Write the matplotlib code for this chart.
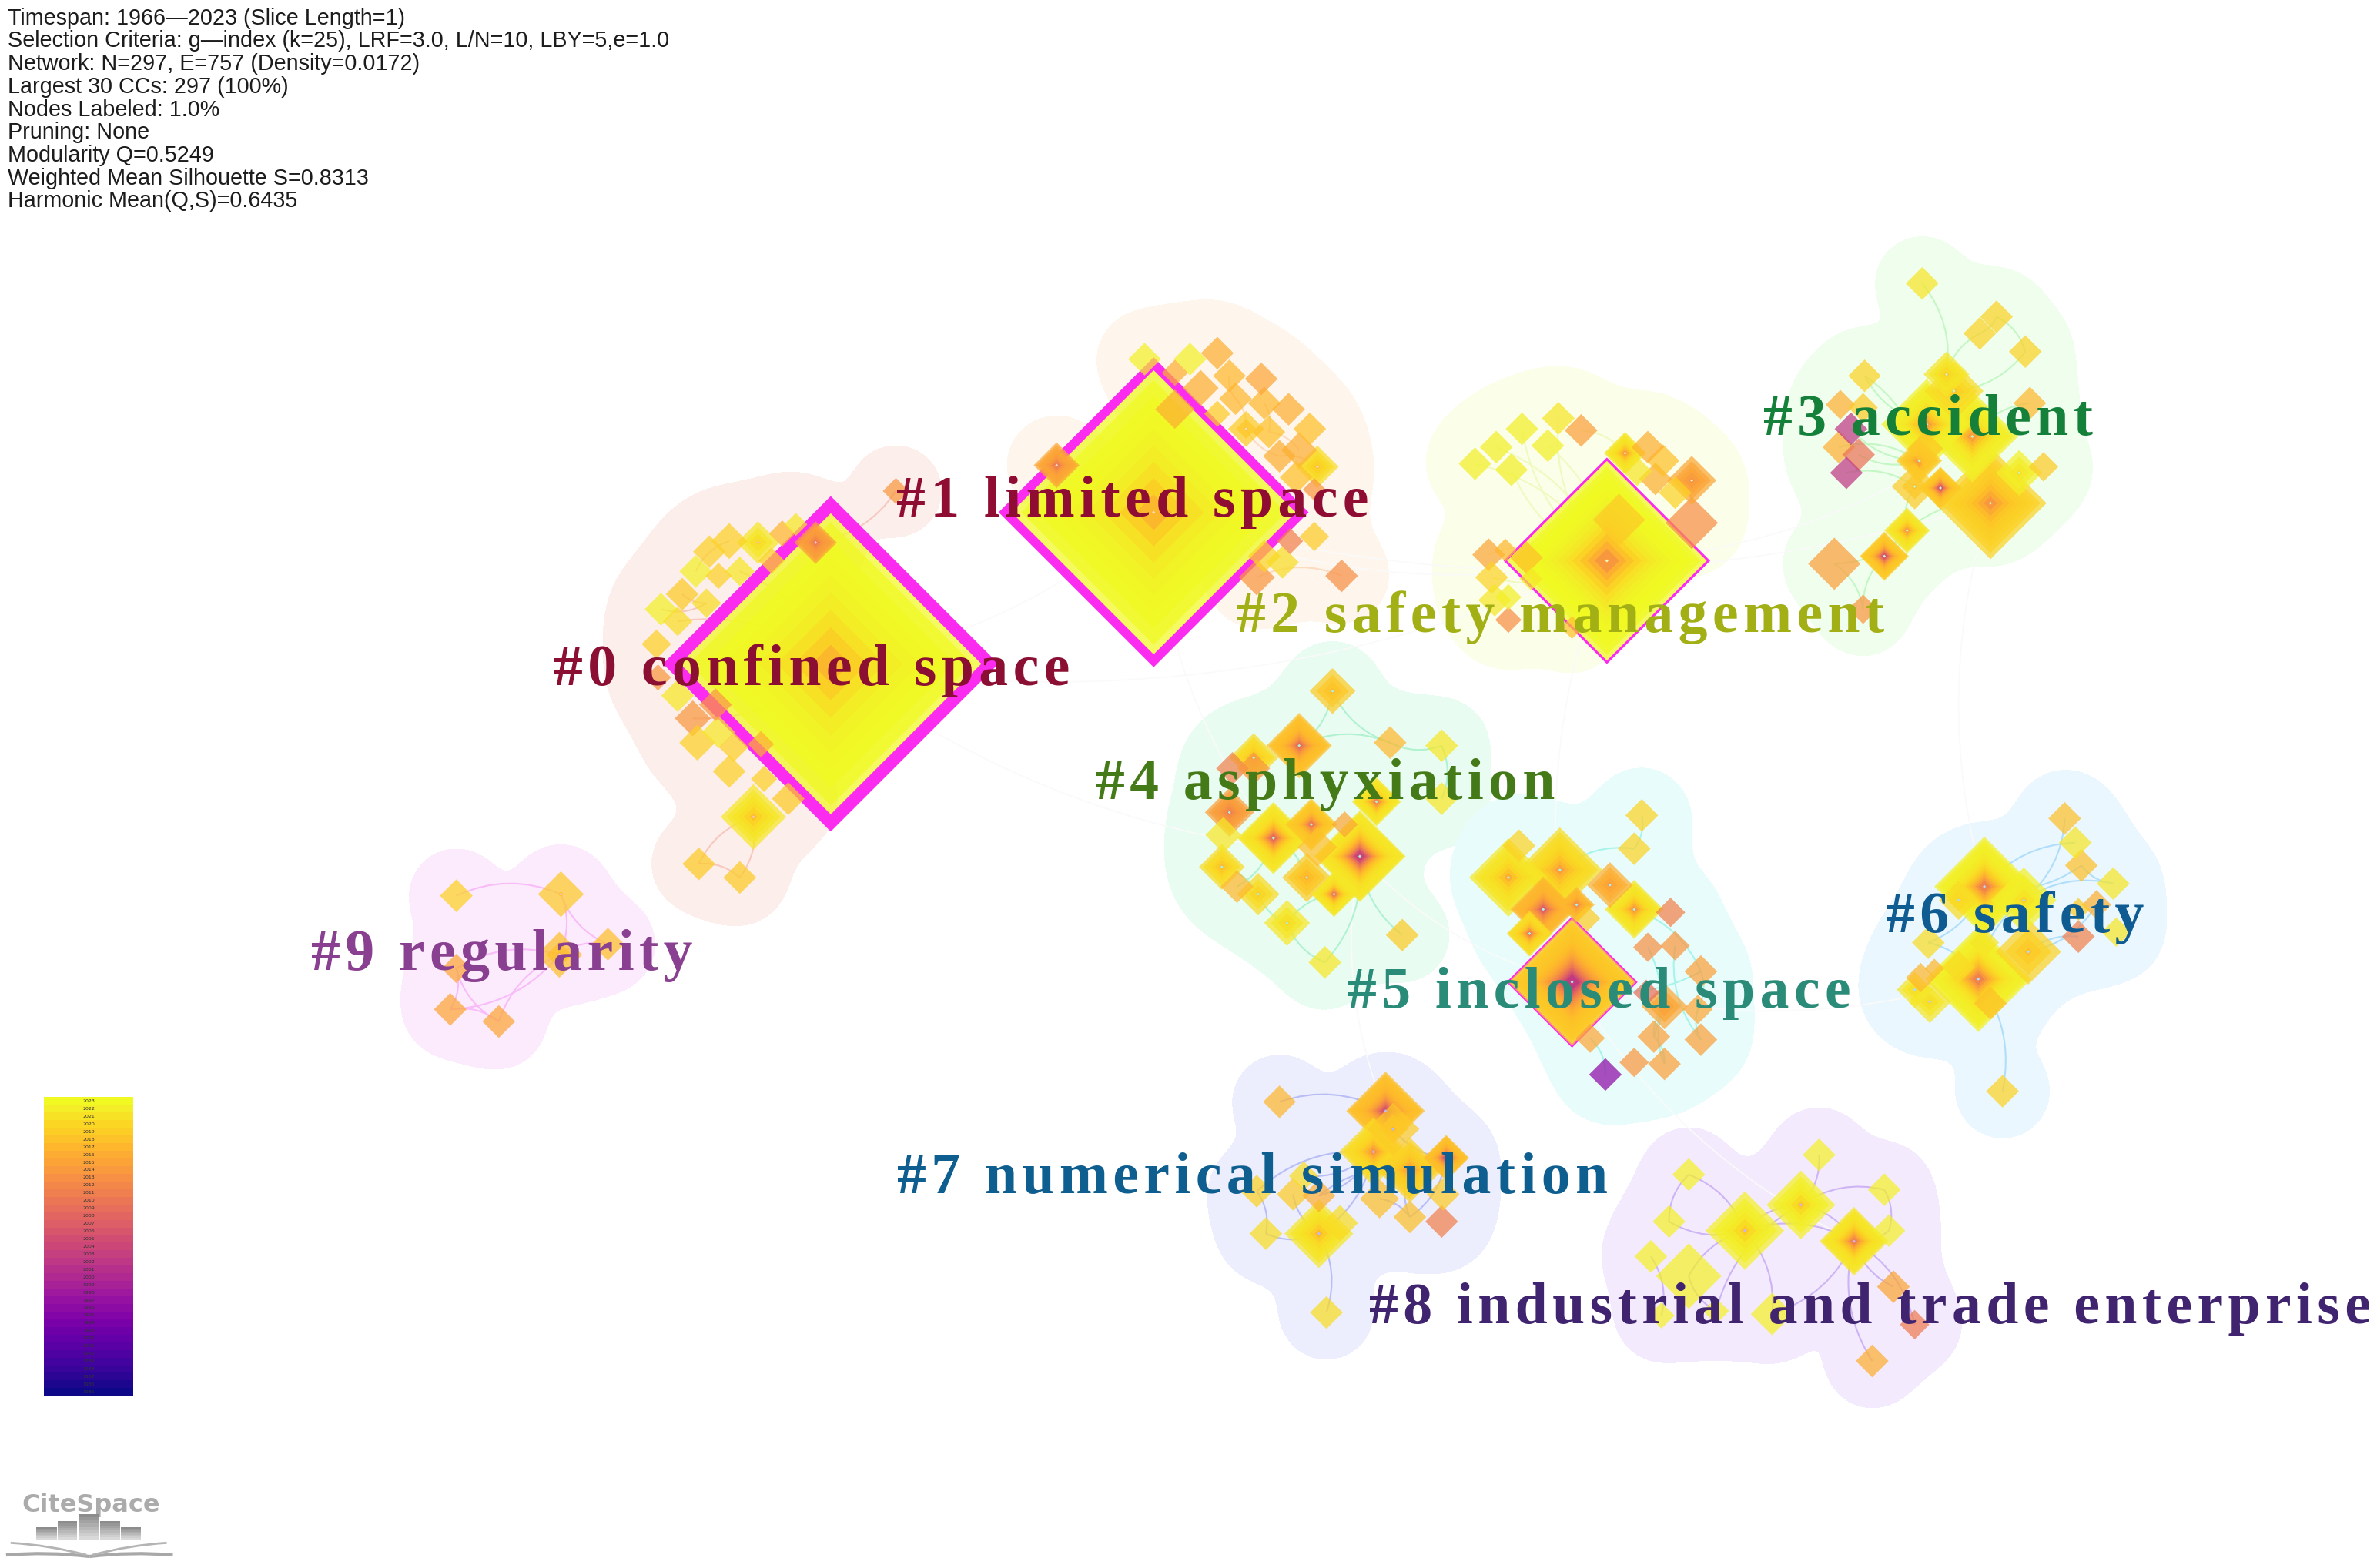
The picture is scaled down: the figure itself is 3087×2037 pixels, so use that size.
# CiteSpace cluster map of the confined space literature
import numpy as np
import matplotlib
matplotlib.use("Agg")
import matplotlib.pyplot as plt
from matplotlib.path import Path
from matplotlib.patches import PathPatch, Polygon

stats = ["Timespan: 1966\u20142023 (Slice Length=1)",
         "Selection Criteria: g\u2014index (k=25), LRF=3.0, L/N=10, LBY=5,e=1.0",
         "Network: N=297, E=757 (Density=0.0172)",
         "Largest 30 CCs: 297 (100%)",
         "Nodes Labeled: 1.0%",
         "Pruning: None",
         "Modularity Q=0.5249",
         "Weighted Mean Silhouette S=0.8313",
         "Harmonic Mean(Q,S)=0.6435"]
years = list(range(2023, 1984, -1))

# every node: x, y, half diagonal, newest ring year, oldest ring year
c0_x = [548, 538, 500, 481, 516, 525, 468, 459, 474, 488, 509, 450, 436, 466, 447, 433, 434, 447, 472, 457, 460, 474, 502, 484, 481, 504, 520, 497, 461, 488, 591]
c0_y = [438, 358, 358, 357, 352, 346, 364, 377, 380, 377, 370, 392, 402, 398, 410, 425, 447, 459, 465, 474, 490, 483, 491, 493, 509, 514, 527, 539, 570, 579, 324]
c0_r = [105, 13, 13, 11, 8, 7, 10, 10, 8, 9, 8, 10, 10, 9, 9, 9, 8, 10, 10, 11, 11, 10, 8, 9, 10, 8, 10, 20, 10, 10, 8]
c0_new = [2023, 2013, 2021, 2019, 2016, 2021, 2019, 2022, 2019, 2021, 2019, 2018, 2022, 2020, 2020, 2019, 2012, 2021, 2012, 2012, 2019, 2021, 2015, 2019, 2019, 2019, 2018, 2021, 2018, 2018, 2012]
c0_old = [2015, 2006, 2018, 2019, 2016, 2021, 2019, 2022, 2019, 2021, 2019, 2018, 2022, 2020, 2020, 2019, 2012, 2021, 2012, 2012, 2019, 2021, 2015, 2019, 2019, 2019, 2018, 2016, 2018, 2018, 2012]
c0_edges = [(28, 29), (27, 28), (27, 29), (1, 30), (7, 3), (12, 13), (13, 11), (0, 14), (0, 19), (0, 9)]

c1_x = [761, 755, 785, 803, 775, 811, 832, 792, 815, 834, 775, 850, 803, 822, 837, 864, 844, 857, 869, 855, 697, 867, 851, 867, 834, 846, 829, 885]
c1_y = [338, 237, 237, 233, 246, 248, 250, 256, 263, 266, 270, 270, 273, 283, 285, 283, 301, 297, 308, 315, 307, 323, 357, 354, 367, 371, 381, 380]
c1_r = [98, 10, 10, 10, 8, 10, 10, 11, 10, 10, 12, 10, 8, 11, 10, 10, 10, 11, 13, 10, 14, 7, 8, 9, 10, 10, 11, 10]
c1_new = [2023, 2022, 2022, 2015, 2015, 2016, 2014, 2015, 2016, 2016, 2015, 2015, 2018, 2018, 2017, 2017, 2015, 2015, 2020, 2017, 2014, 2012, 2009, 2018, 2019, 2020, 2012, 2011]
c1_old = [2015, 2022, 2022, 2015, 2015, 2016, 2014, 2015, 2016, 2016, 2015, 2015, 2018, 2016, 2017, 2017, 2015, 2015, 2016, 2017, 2006, 2012, 2009, 2018, 2019, 2020, 2012, 2011]
c1_edges = [(8, 13), (13, 16), (16, 18), (5, 8), (14, 17), (27, 26), (9, 14)]

c2_x = [1060, 1028, 1004, 1043, 987, 1021, 973, 997, 1072, 1087, 1097, 1080, 1092, 1116, 1105, 1116, 1068, 982, 993, 1007, 984, 1010, 986, 995, 995, 1037]
c2_y = [370, 276, 283, 284, 295, 294, 306, 310, 299, 295, 304, 311, 316, 317, 325, 345, 343, 366, 363, 368, 381, 382, 396, 394, 409, 414]
c2_r = [67, 10, 10, 10, 10, 10, 10, 10, 13, 10, 10, 9, 10, 15, 10, 16, 16, 10, 7, 10, 10, 7, 10, 8, 8, 7]
c2_new = [2023, 2021, 2022, 2013, 2022, 2022, 2022, 2022, 2021, 2015, 2017, 2021, 2015, 2014, 2019, 2011, 2018, 2014, 2016, 2017, 2019, 2021, 2021, 2022, 2011, 2017]
c2_old = [2011, 2021, 2022, 2013, 2022, 2022, 2022, 2022, 2011, 2015, 2017, 2021, 2015, 2010, 2019, 2011, 2018, 2014, 2016, 2017, 2019, 2021, 2021, 2022, 2011, 2017]
c2_edges = [(6, 0), (7, 0), (4, 0), (2, 0), (5, 0), (1, 0), (3, 8), (8, 0), (17, 0), (20, 0)]

c3_x = [1268, 1317, 1306, 1336, 1284, 1230, 1289, 1339, 1214, 1229, 1221, 1271, 1301, 1213, 1226, 1218, 1266, 1270, 1263, 1280, 1313, 1332, 1348, 1258, 1243, 1210, 1229]
c3_y = [187, 209, 220, 232, 247, 248, 258, 266, 267, 269, 283, 280, 288, 295, 300, 312, 304, 296, 321, 322, 332, 312, 308, 350, 367, 372, 402]
c3_r = [10, 10, 10, 10, 14, 10, 18, 10, 9, 9, 10, 30, 28, 10, 10, 10, 14, 11, 14, 13, 37, 14, 9, 14, 15, 16, 9]
c3_new = [2021, 2019, 2019, 2019, 2021, 2019, 2020, 2016, 2015, 2018, 1997, 2022, 2022, 2015, 2007, 1997, 2018, 2018, 2018, 2018, 2019, 2022, 2018, 2021, 2018, 2013, 2012]
c3_old = [2021, 2019, 2019, 2019, 2017, 2019, 2016, 2016, 2015, 2018, 1997, 2012, 2012, 2015, 2007, 1997, 2010, 2018, 2016, 2000, 2011, 2019, 2018, 2011, 2000, 2013, 2012]
c3_edges = [(0, 4), (2, 4), (1, 3), (2, 1), (3, 6), (5, 11), (5, 16), (10, 16), (13, 16), (14, 16), (15, 18), (18, 23), (23, 24), (25, 23), (25, 26), (24, 26), (23, 20), (7, 12)]

c4_x = [879, 857, 917, 951, 827, 813, 827, 951, 908, 811, 865, 887, 840, 807, 869, 897, 806, 862, 816, 880, 830, 849, 925, 874]
c4_y = [456, 492, 490, 492, 500, 507, 507, 527, 529, 536, 544, 544, 553, 551, 559, 565, 572, 579, 585, 590, 590, 609, 617, 635]
c4_r = [14, 20, 10, 10, 15, 10, 10, 10, 15, 15, 16, 8, 22, 11, 12, 28, 14, 15, 10, 14, 13, 14, 10, 10]
c4_new = [2018, 2017, 2016, 2021, 2020, 2009, 2012, 2021, 2021, 2013, 2018, 2014, 2021, 2021, 2017, 2021, 2020, 2018, 2016, 2021, 2020, 2021, 2018, 2021]
c4_old = [2015, 2005, 2016, 2021, 2014, 2009, 2012, 2021, 2008, 2007, 2006, 2014, 2005, 2021, 2017, 1998, 2015, 2014, 2016, 2007, 2017, 2018, 2018, 2021]
c4_edges = [(0, 1), (0, 2), (1, 2), (2, 3), (3, 7), (15, 22), (15, 23), (21, 23), (16, 20), (20, 21), (12, 18), (19, 21), (12, 17)]

c5_x = [1083, 1078, 1002, 995, 1029, 1062, 1018, 1040, 1078, 1102, 1047, 1009, 1087, 1105, 1037, 1122, 1086, 1098, 1120, 1049, 1091, 1122, 1059, 1078, 1098]
c5_y = [538, 560, 558, 579, 574, 584, 600, 597, 600, 602, 606, 616, 625, 624, 648, 641, 655, 664, 666, 685, 684, 686, 709, 701, 702]
c5_r = [10, 10, 10, 24, 26, 14, 20, 11, 18, 9, 8, 14, 9, 9, 42, 10, 8, 14, 9, 9, 10, 10, 10, 9, 10]
c5_new = [2019, 2019, 2019, 2021, 2020, 2015, 2016, 2016, 2021, 2009, 2018, 2020, 2011, 2012, 2018, 2013, 2006, 2014, 2014, 2014, 2013, 2013, 1988, 2012, 2013]
c5_old = [2019, 2019, 2019, 2014, 2012, 2011, 2003, 2008, 2011, 2009, 2018, 2007, 2011, 2012, 1996, 2013, 2006, 2011, 2014, 2014, 2013, 2013, 1988, 2012, 2013]
c5_edges = [(0, 1), (1, 4), (19, 22), (14, 15), (15, 18), (17, 20), (12, 20), (13, 21), (20, 24), (18, 21), (8, 15), (17, 24)]

c6_x = [1362, 1369, 1373, 1394, 1309, 1292, 1335, 1383, 1371, 1371, 1396, 1272, 1338, 1305, 1309, 1292, 1313, 1267, 1276, 1263, 1273, 1321]
c6_y = [540, 556, 571, 583, 585, 594, 594, 597, 600, 618, 615, 622, 628, 646, 622, 638, 662, 645, 639, 653, 661, 720]
c6_r = [10, 10, 10, 10, 33, 12, 20, 9, 7, 10, 9, 10, 20, 35, 9, 10, 10, 9, 6, 11, 13, 10]
c6_new = [2017, 2021, 2017, 2021, 2022, 2020, 2022, 2015, 2018, 2009, 2021, 2020, 2019, 2022, 2021, 2020, 2017, 2016, 2016, 2021, 2021, 2019]
c6_old = [2017, 2021, 2017, 2021, 2008, 2018, 2018, 2015, 2018, 2009, 2021, 2020, 2016, 2008, 2021, 2020, 2017, 2016, 2016, 2018, 2018, 2019]
c6_edges = [(0, 6), (1, 4), (2, 4), (3, 6), (3, 2), (9, 12), (11, 13), (11, 4), (13, 21), (6, 13), (7, 12)]

c7_x = [844, 914, 919, 906, 954, 930, 860, 829, 853, 870, 910, 952, 930, 951, 835, 870, 884, 875]
c7_y = [727, 733, 745, 760, 764, 772, 776, 786, 788, 789, 791, 788, 803, 806, 814, 814, 807, 866]
c7_r = [10, 24, 16, 21, 14, 20, 9, 10, 10, 10, 12, 10, 10, 10, 10, 21, 11, 10]
c7_new = [2016, 2017, 2018, 2020, 2017, 2019, 2020, 2019, 2018, 2015, 2017, 2018, 2017, 2009, 2020, 2021, 2020, 2020]
c7_old = [2016, 2001, 2016, 2011, 1999, 2011, 2020, 2019, 2018, 2015, 2017, 2018, 2017, 2009, 2020, 2015, 2020, 2020]
c7_edges = [(0, 1), (3, 5), (3, 9), (6, 3), (7, 14), (14, 15), (15, 17), (15, 3), (10, 12), (5, 12), (4, 12), (8, 15), (9, 5), (2, 4), (7, 3)]

c8_x = [1200, 1114, 1243, 1188, 1101, 1151, 1246, 1223, 1089, 1114, 1249, 1096, 1132, 1169, 1263, 1235]
c8_y = [762, 775, 785, 795, 806, 812, 812, 819, 829, 842, 849, 868, 865, 867, 874, 898]
c8_r = [10, 10, 10, 21, 10, 24, 10, 21, 10, 20, 10, 8, 8, 13, 9, 10]
c8_new = [2022, 2022, 2022, 2022, 2022, 2022, 2022, 2021, 2022, 2022, 2014, 2022, 2022, 2022, 2008, 2015]
c8_old = [2022, 2022, 2022, 2017, 2022, 2017, 2022, 2008, 2022, 2022, 2014, 2022, 2022, 2022, 2008, 2015]
c8_edges = [(0, 3), (1, 4), (1, 5), (2, 3), (2, 6), (3, 5), (3, 7), (4, 5), (5, 7), (5, 9), (5, 13), (3, 12), (7, 13), (7, 10), (7, 14), (7, 15), (8, 11), (9, 12), (6, 7)]

c9_x = [301, 370, 401, 369, 301, 297, 329]
c9_y = [591, 590, 623, 630, 639, 666, 674]
c9_r = [10, 14, 10, 14, 9, 10, 10]
c9_new = [2019, 2018, 2017, 2017, 2014, 2014, 2014]
c9_old = [2019, 2017, 2017, 2015, 2014, 2014, 2014]
c9_edges = [(0, 1), (1, 2), (1, 3), (3, 4), (3, 5), (3, 6), (4, 5), (4, 6), (5, 6), (2, 3)]

labels = ["#0 confined space", "#1 limited space", "#2 safety management", "#3 accident",
          "#4 asphyxiation", "#5 inclosed space", "#6 safety", "#7 numerical simulation",
          "#8 industrial and trade enterprise", "#9 regularity"]
label_x = [365, 591, 816, 1163, 723, 889, 1244, 592, 903, 205]
label_y = [452, 341, 417, 287, 527, 665, 615, 787, 873, 640]
label_col = ["#8a0f33", "#8f0d32", "#a2b015", "#14803a", "#457a18", "#2a8c78", "#0f5c93", "#0f5e90", "#40246f", "#8a4090"]
hull_col = ["#fceeea", "#fef6ec", "#fbfee9", "#f0feee", "#e9fcf1", "#e8fdfb", "#eaf7fe", "#eceefd", "#f3eafd", "#fceafd"]
edge_col = ["#f8c8c0", "#fbdcc0", "#f0fac0", "#c4f7c4", "#b0f2d0", "#a8f3ea", "#b0defa", "#b8bdf5", "#cdb4f5", "#f8bcf8"]

# (cluster, node index, magenta ring width)
burst = [(0, 0, 8), (1, 0, 6), (2, 0, 1.6), (5, 14, 1.8)]

xs = [c0_x, c1_x, c2_x, c3_x, c4_x, c5_x, c6_x, c7_x, c8_x, c9_x]
ys = [c0_y, c1_y, c2_y, c3_y, c4_y, c5_y, c6_y, c7_y, c8_y, c9_y]
rs = [c0_r, c1_r, c2_r, c3_r, c4_r, c5_r, c6_r, c7_r, c8_r, c9_r]
news = [c0_new, c1_new, c2_new, c3_new, c4_new, c5_new, c6_new, c7_new, c8_new, c9_new]
olds = [c0_old, c1_old, c2_old, c3_old, c4_old, c5_old, c6_old, c7_old, c8_old, c9_old]
edges = [c0_edges, c1_edges, c2_edges, c3_edges, c4_edges, c5_edges, c6_edges, c7_edges, c8_edges, c9_edges]
# faint links between clusters: (cluster a, node a, cluster b, node b)
links = [(0, 0, 1, 0), (0, 0, 2, 0), (1, 0, 2, 0), (1, 0, 3, 20), (2, 0, 3, 12), (0, 0, 4, 15),
         (1, 0, 4, 12), (4, 15, 5, 14), (2, 0, 5, 14), (5, 14, 6, 13), (3, 20, 6, 4), (4, 15, 7, 1), (5, 14, 8, 7)]

cmap = plt.get_cmap("plasma")


def year_col(y):
    return cmap(((y - 1966) / (2023 - 1966)) ** 1.3)


def curve(ax, x0, y0, x1, y1, bend, col, lw, z):
    mx = (x0 + x1) / 2 - (y1 - y0) * bend
    my = (y0 + y1) / 2 + (x1 - x0) * bend
    p = Path([(x0, y0), (mx, my), (x1, y1)], [Path.MOVETO, Path.CURVE3, Path.CURVE3])
    ax.add_patch(PathPatch(p, fc="none", ec=col, lw=lw, zorder=z))


def spaced(t):
    # labels in the original are letterspaced, a hair space does that
    return "\u200a".join(t)


fig = plt.figure(figsize=(30.87, 20.37), dpi=100)
ax = fig.add_axes([0, 0, 1, 1])
ax.axis("off")

for c in range(10):
    x = np.array(xs[c], dtype=float)
    y = np.array(ys[c], dtype=float)
    r = np.array(rs[c], dtype=float)

    # hull is a smooth blob round the nodes
    gx, gy = np.meshgrid(np.arange(x.min() - 90, x.max() + 90, 1.0), np.arange(y.min() - 90, y.max() + 90, 1.0))
    s = np.minimum(18 + r * 0.3, 28)
    f = np.zeros(gx.shape)
    for i in range(len(x)):
        f += np.exp(-1.5 * ((gx - x[i]) ** 2 + (gy - y[i]) ** 2) / (2 * s[i] ** 2))
    ax.contourf(gx, gy, f, levels=[0.2, 1e6], colors=[hull_col[c]], zorder=1)

    for n, (a, b) in enumerate(edges[c]):
        bend = 0.22 if n % 2 else -0.22
        curve(ax, x[a], y[a], x[b], y[b], bend, edge_col[c], 1.5, 2)

for a, i, b, j in links:
    curve(ax, xs[a][i], ys[a][i], xs[b][j], ys[b][j], 0.15, "#fafafa", 1.2, 1.5)

for c in range(10):
    order = np.argsort(rs[c])[::-1]
    for i in order:
        x, y, r = xs[c][i], ys[c][i], rs[c][i]
        if r < 30:
            r = r * 1.08
        new, old = news[c][i], olds[c][i]
        n = new - old + 1
        radii = np.linspace(r, r * 0.12, n) if n > 1 else [r]
        for k, rr in enumerate(radii):
            # old rings only show up close to the core
            ry = new - (new - old) * (k / max(n - 1, 1)) ** 3.5
            ax.fill([x, x + rr, x, x - rr], [y - rr, y, y + rr, y], color=year_col(ry), alpha=0.72, lw=0, zorder=3 + (100 - r) * 0.01)
        if n > 1:
            ax.fill([x, x + 1, x, x - 1], [y - 1, y, y + 1, y], color=edge_col[c], lw=0, zorder=3.99)

for c, i, w in burst:
    x, y, r = xs[c][i], ys[c][i], rs[c][i]
    ax.add_patch(Polygon([(x, y - r), (x + r, y), (x, y + r), (x - r, y)], closed=True, fc="none", ec="#fb2bef",
                         lw=w * 1.418, joinstyle="miter", zorder=3.5))

for t, lx, ly, col in zip(labels, label_x, label_y, label_col):
    ax.text(lx, ly, spaced(t), color=col, family="Liberation Serif", weight="bold", fontsize=54.5, ha="left", va="baseline", zorder=10)

for i, t in enumerate(stats):
    ax.text(5, 12 + i * 15.1, t, family="Liberation Sans", fontsize=20.7, color="#1c1c1c", va="center", ha="left", zorder=10)

# year colour bar
edges_y = np.linspace(724, 921, len(years) + 1)
ax.pcolormesh([29, 88], edges_y, np.array(years)[:, None], cmap="plasma", zorder=5)
for i, yr in enumerate(years):
    ax.text(58.5, (edges_y[i] + edges_y[i + 1]) / 2, str(yr), fontsize=4.5, color="#333333", ha="center", va="center", zorder=6)

# logo
logo_left = [24, 38, 52, 66, 79.5]
logo_right = [37.5, 51, 65.5, 79, 93]
logo_top = [1007.5, 1003.5, 999, 1003.5, 1007.5]
ax.text(60, 993, "CiteSpace", family="DejaVu Sans", weight="bold", color="#ababab", fontsize=23, ha="center", va="center", zorder=5)
for l, rr, tp in zip(logo_left, logo_right, logo_top):
    yy = np.linspace(tp, 1016, 9)
    ax.pcolormesh([l, rr], yy, np.linspace(0.55, 0.85, 8)[:, None], cmap="gray", vmin=0, vmax=1, zorder=5)
curve(ax, 4, 1026, 59, 1027, -0.05, "#a8a8a8", 3, 5)
curve(ax, 114, 1026, 59, 1027, 0.05, "#a8a8a8", 3, 5)
curve(ax, 7, 1018, 57, 1026, -0.05, "#b4b4b4", 2, 5)
curve(ax, 110, 1018, 61, 1026, 0.05, "#b4b4b4", 2, 5)

ax.set_xlim(0, 1568)
ax.set_ylim(1034.6, 0)
fig.savefig("out.png", dpi=100, facecolor="white")
